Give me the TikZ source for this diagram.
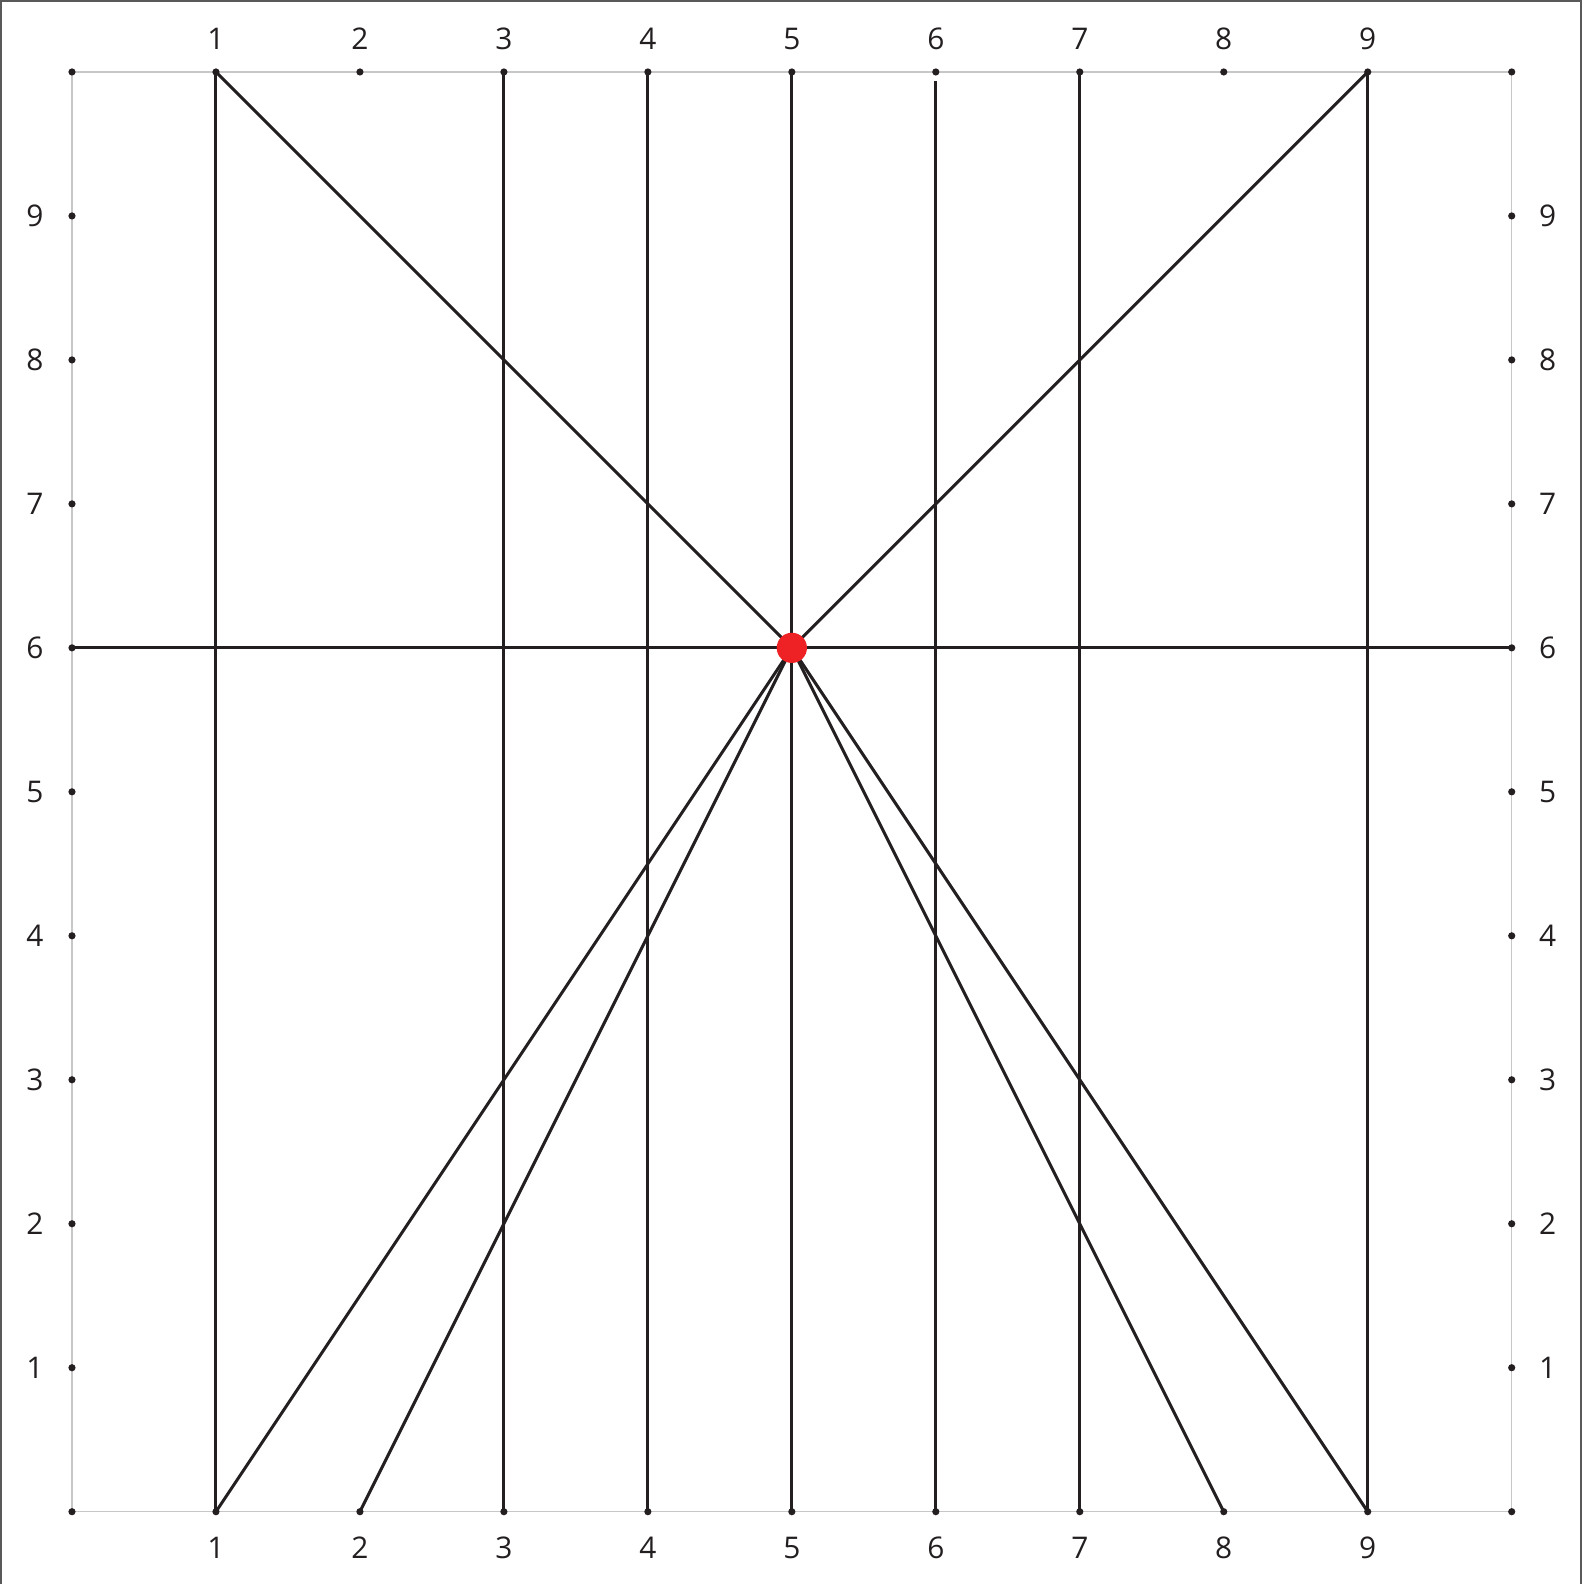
\documentclass[tikz,border=0pt]{standalone}
\usepackage{fontspec}
\setmainfont{Open Sans}
\definecolor{ink}{HTML}{231F20}
\definecolor{dotred}{HTML}{EE2224}
\tikzset{
  gridline/.style={draw=black!22,line width=0.3pt},
  ray/.style={draw=ink,line width=0.6pt},
  lbl/.style={inner sep=0pt,text=ink,font=\fontsize{5.9}{7}\selectfont},
  pin/.style={fill=ink}
}

\begin{document}
\begin{tikzpicture}
\useasboundingbox (-0.5,-0.5) rectangle (10.53,10.5);
\draw[black!65,line width=0.4pt] (-0.493,-0.7) -- (-0.493,10.493) -- (10.479,10.493) -- (10.479,-0.7);

% grid points
\foreach \i in {0,...,10} {
  \coordinate (t\i) at (\i,10);
  \coordinate (b\i) at (\i,0);
  \coordinate (l\i) at (0,\i);
  \coordinate (r\i) at (10,\i);
}
\coordinate (c) at (5,6);

\draw[gridline] (b0) rectangle (t10);

% verticals
\foreach \i in {1,3,4,5,7,9}
  \draw[ray] (t\i) -- (b\i);
\draw[ray,shorten <=0.065cm] (t6) -- (b6);
\draw[ray] (l6) -- (r6);

% rays through the centre
\draw[ray] (t1) -- (c);
\draw[ray] (t9) -- (c);
\foreach \i in {1,2,8,9}
  \draw[ray] (c) -- (b\i);

% dots and labels
\foreach \i in {0,...,10} {
  \fill[pin] (t\i) circle (0.025);
  \fill[pin] (b\i) circle (0.025);
}
\foreach \i in {1,...,9} {
  \fill[pin] (l\i) circle (0.025);
  \fill[pin] (r\i) circle (0.025);
  \node[lbl] (tl\i) at (\i,10.23) {\i};
  \node[lbl] (bl\i) at (\i,-0.253) {\i};
  \node[lbl] (ll\i) at (-0.257,\i) {\i};
  \node[lbl] (rl\i) at (10.25,\i) {\i};
}

\fill[dotred] (c) circle (0.105);
\end{tikzpicture}
\end{document}
